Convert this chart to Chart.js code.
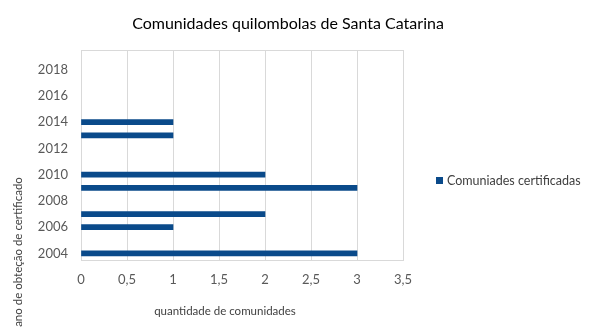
<!DOCTYPE html>
<html>
<head>
<meta charset="utf-8">
<script src="https://cdn.jsdelivr.net/npm/chart.js@4"></script>
<style>
  html, body { margin: 0; padding: 0; background: #fff; }
  #wrap { width: 592px; height: 331px; position: relative; }
</style>
</head>
<body>
<div id="wrap"><canvas id="chart"></canvas></div>
<script>
const TITLE = "Comunidades quilombolas de Santa Catarina";
const SERIES_LABEL = "Comuniades certificadas";
const X_TITLE = "quantidade de comunidades";
const Y_TITLE = "ano de obteção de certificado";

const YEARS = ["2004", "2005", "2006", "2007", "2008", "2009", "2010", "2011",
  "2012", "2013", "2014", "2015", "2016", "2017", "2018", "2019"];
const CERTIFIED = [3, null, 1, 2, null, 3, 2, null, null, 1, 1, null, null, null, null, null];

const FONT = "Lato, 'Liberation Sans', sans-serif";
const BAR_COLOR = "#0a4a8a";
const GRID_COLOR = "#d9d9d9";

// texts that sit outside the plot, placed like the spreadsheet does
const decor = {
  id: "decor",
  afterDraw(chart) {
    const { ctx, chartArea } = chart;
    ctx.save();
    ctx.strokeStyle = GRID_COLOR;
    ctx.lineWidth = 1;
    ctx.beginPath();
    ctx.moveTo(chartArea.left, chartArea.top + 0.5);
    ctx.lineTo(chartArea.right, chartArea.top + 0.5);
    ctx.stroke();

    ctx.textAlign = "center";
    ctx.textBaseline = "middle";
    ctx.fillStyle = "#000";
    ctx.font = "16px " + FONT;
    ctx.fillText(TITLE, 288, 24);

    ctx.fillStyle = "#404040";
    ctx.font = "11.5px " + FONT;
    ctx.fillText(X_TITLE, 225, 311);

    ctx.translate(18, 252);
    ctx.rotate(-Math.PI / 2);
    ctx.fillText(Y_TITLE, 0, 0);
    ctx.restore();

    // legend
    const ds = chart.data.datasets[0];
    ctx.save();
    ctx.fillStyle = ds.backgroundColor;
    ctx.fillRect(436, 177, 7, 7);
    ctx.fillStyle = "#404040";
    ctx.font = "12.5px " + FONT;
    ctx.textBaseline = "middle";
    ctx.fillText(ds.label, 447, 181);
    ctx.restore();
  },
};

function createChart() {
  const ctx = document.getElementById("chart").getContext("2d");
  return new Chart(ctx, {
    type: "bar",
    data: {
      labels: YEARS,
      datasets: [
        {
          label: SERIES_LABEL,
          data: CERTIFIED,
          backgroundColor: BAR_COLOR,
          barThickness: 5,
        },
      ],
    },
    options: {
      indexAxis: "y",
      responsive: true,
      maintainAspectRatio: false,
      animation: false,
      layout: { padding: { top: 50, right: 189, left: 0, bottom: 0 } },
      scales: {
        x: {
          min: 0,
          max: 3.5,
          ticks: {
            stepSize: 0.5,
            padding: 12,
            color: "#595959",
            font: { family: FONT, size: 13 },
            callback: (v) => String(v).replace(".", ","),
          },
          grid: { color: GRID_COLOR, drawTicks: false },
          border: { color: GRID_COLOR },
          afterFit: (scale) => { scale.height = 71; },
        },
        y: {
          reverse: true,
          ticks: {
            autoSkip: false,
            padding: 13,
            color: "#595959",
            font: { family: FONT, size: 13 },
            callback: (v, i) => (i % 2 === 0 && i < YEARS.length - 1 ? YEARS[i] : ""),
          },
          grid: { display: false, drawTicks: false },
          border: { color: GRID_COLOR },
          afterFit: (scale) => { scale.width = 81; },
        },
      },
      plugins: {
        legend: { display: false },
        tooltip: { enabled: false },
        title: { display: false },
      },
    },
    plugins: [decor],
  });
}

document.addEventListener("DOMContentLoaded", () => createChart());
</script>
</body>
</html>
